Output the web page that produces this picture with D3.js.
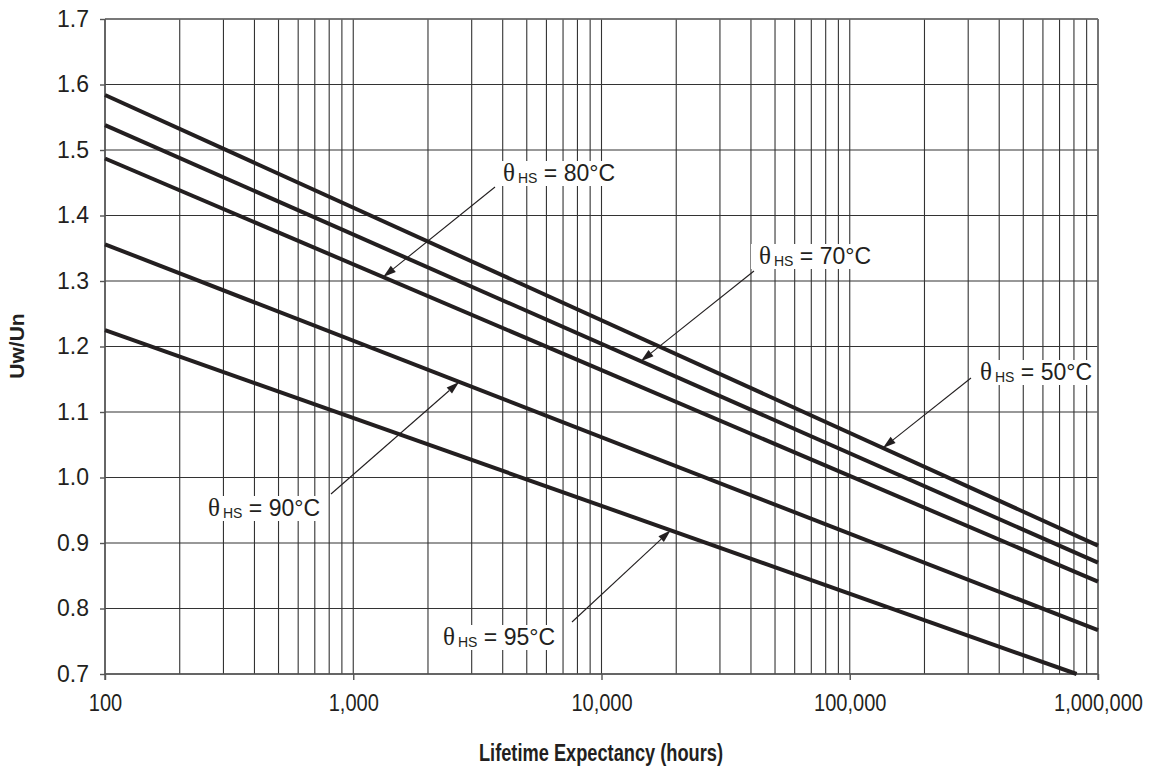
<!DOCTYPE html>
<html>
<head>
<meta charset="utf-8">
<script src="https://cdn.jsdelivr.net/npm/d3@7/dist/d3.min.js"></script>
<style>
  html, body { margin: 0; padding: 0; background: #fff; }
  svg { display: block; }
  text { font-family: "Liberation Sans", Arial, Helvetica, sans-serif; fill: #231f20; }
</style>
</head>
<body>
<svg id="chart" width="1151" height="769"></svg>
<script>
// ---------- data ----------
const temperatures = [50, 70, 80, 90, 95];
const hours50 = [100, 1000000];
const uw50 = [1.584, 0.896];
const hours70 = [100, 1000000];
const uw70 = [1.538, 0.870];
const hours80 = [100, 1000000];
const uw80 = [1.487, 0.841];
const hours90 = [100, 1000000];
const uw90 = [1.356, 0.767];
const hours95 = [100, 820000];
const uw95 = [1.225, 0.700];

const yTicks = [0.7, 0.8, 0.9, 1.0, 1.1, 1.2, 1.3, 1.4, 1.5, 1.6, 1.7];
const xTicks = [100, 1000, 10000, 100000, 1000000];
const xTickLabels = ["100", "1,000", "10,000", "100,000", "1,000,000"];
const yTitle = "Uw/Un";
const xTitle = "Lifetime Expectancy (hours)";

// arrow targets (hours on each curve)
const arrowHours = [136000, 14400, 1320, 2670, 19000];

// ---------- layout ----------
const plotL = 105, plotR = 1098, plotT = 19, plotB = 674;
const svg = d3.select("#chart");
const x = d3.scaleLog().domain([100, 1000000]).range([plotL, plotR]);
const y = d3.scaleLinear().domain([0.7, 1.7]).range([plotB, plotT]);

const series = [
  { t: temperatures[0], h: hours50, v: uw50 },
  { t: temperatures[1], h: hours70, v: uw70 },
  { t: temperatures[2], h: hours80, v: uw80 },
  { t: temperatures[3], h: hours90, v: uw90 },
  { t: temperatures[4], h: hours95, v: uw95 }
];

const gridColor = "#333";

// vertical grid (all minor log ticks)
const minor = [];
for (let d = 100; d < 1000000; d *= 10) {
  for (let k = 1; k < 10; k++) minor.push(d * k);
}
minor.push(1000000);
svg.append("g").selectAll("line").data(minor).join("line")
  .attr("x1", d => x(d)).attr("x2", d => x(d))
  .attr("y1", plotT).attr("y2", plotB)
  .attr("stroke", gridColor).attr("stroke-width", 1.1);

// horizontal grid
svg.append("g").selectAll("line").data(yTicks).join("line")
  .attr("x1", plotL).attr("x2", plotR)
  .attr("y1", d => y(d)).attr("y2", d => y(d))
  .attr("stroke", gridColor).attr("stroke-width", 1.1);

// frame
svg.append("line").attr("x1", plotL).attr("x2", plotR).attr("y1", plotT).attr("y2", plotT)
  .attr("stroke", "#6e6e6e").attr("stroke-width", 1.6);
svg.append("line").attr("x1", plotR).attr("x2", plotR).attr("y1", plotT).attr("y2", plotB + 6)
  .attr("stroke", "#6e6e6e").attr("stroke-width", 1.6);
svg.append("line").attr("x1", plotL).attr("x2", plotR).attr("y1", plotB).attr("y2", plotB)
  .attr("stroke", "#555").attr("stroke-width", 1.4);
svg.append("line").attr("x1", plotL).attr("x2", plotL).attr("y1", plotT).attr("y2", plotB + 6)
  .attr("stroke", "#555").attr("stroke-width", 1.4);

// axes (ticks + labels)
const yAxis = d3.axisLeft(y).tickValues(yTicks).tickFormat(d3.format(".1f"))
  .tickSize(5).tickPadding(11);
const gy = svg.append("g").attr("transform", `translate(${plotL},0)`).call(yAxis);
gy.select(".domain").remove();
gy.selectAll(".tick line").attr("stroke", "#555").attr("stroke-width", 1.4);
gy.selectAll(".tick text").attr("font-size", 23).attr("fill", "#231f20")
  .attr("font-family", "Liberation Sans, Arial, sans-serif");

const xAxis = d3.axisBottom(x).tickValues(xTicks)
  .tickFormat((d, i) => xTickLabels[i]).tickSize(6).tickPadding(15);
const gx = svg.append("g").attr("transform", `translate(0,${plotB})`).call(xAxis);
gx.select(".domain").remove();
gx.selectAll(".tick line").attr("stroke", "#555").attr("stroke-width", 1.4);
gx.selectAll(".tick text").attr("font-size", 23).attr("fill", "#231f20")
  .attr("transform", "scale(0.87,1)")
  .attr("font-family", "Liberation Sans, Arial, sans-serif");

// data lines
const line = d3.line().x(d => x(d[0])).y(d => y(d[1]));
svg.append("g").selectAll("path").data(series).join("path")
  .attr("d", s => line(s.h.map((h, i) => [h, s.v[i]])))
  .attr("fill", "none").attr("stroke", "#231f20").attr("stroke-width", 4)
  .attr("stroke-linecap", "butt");

// annotation layout (pixel positions of label text and arrow start)
const labelLayout = [
  { tx: 980, ty: 380, ax: 971, ay: 378 },
  { tx: 759, ty: 264, ax: 754, ay: 271 },
  { tx: 503, ty: 181, ax: 495, ay: 187 },
  { tx: 208, ty: 516, ax: 331, ay: 494 },
  { tx: 443, ty: 645, ax: 572, ay: 622 }
];

function valueAt(s, h) {
  const t = (Math.log10(h) - Math.log10(s.h[0])) / (Math.log10(s.h[1]) - Math.log10(s.h[0]));
  return s.v[0] + t * (s.v[1] - s.v[0]);
}

const ann = svg.append("g");
series.forEach((s, i) => {
  const L = labelLayout[i];
  const g = ann.append("g");
  const bg = g.append("rect").attr("fill", "#fff");
  const txt = g.append("text").attr("x", L.tx).attr("y", L.ty);
  txt.append("tspan").attr("font-family", "Liberation Serif, Times New Roman, serif")
    .attr("font-size", 25).text("θ");
  txt.append("tspan").attr("font-size", 14).attr("dx", 3).attr("dy", 2).text("HS");
  txt.append("tspan").attr("font-size", 23).attr("dy", -2).text(" = " + s.t + "°C");
  const bb = txt.node().getBBox();
  bg.attr("x", bb.x - 8).attr("y", bb.y + 2).attr("width", bb.width + 12).attr("height", bb.height - 2);

  // arrow
  const hx = x(arrowHours[i]), hy = y(valueAt(s, arrowHours[i]));
  const dx = hx - L.ax, dy = hy - L.ay;
  const len = Math.hypot(dx, dy);
  const ux = dx / len, uy = dy / len;
  const headLen = 13, headW = 4;
  const bx = hx - ux * headLen, by = hy - uy * headLen;
  ann.append("line").attr("x1", L.ax).attr("y1", L.ay).attr("x2", bx).attr("y2", by)
    .attr("stroke", "#231f20").attr("stroke-width", 1.1);
  ann.append("path")
    .attr("d", `M${hx},${hy}L${bx - uy * headW},${by + ux * headW}L${bx + uy * headW},${by - ux * headW}Z`)
    .attr("fill", "#231f20");
});

// axis titles
svg.append("text").attr("transform", `translate(24,346) rotate(-90)`)
  .attr("text-anchor", "middle").attr("font-weight", "bold").attr("font-size", 21)
  .text(yTitle);
svg.append("text").attr("transform", "translate(601,761) scale(0.76,1)")
  .attr("text-anchor", "middle").attr("font-weight", "bold").attr("font-size", 24)
  .text(xTitle);
</script>
</body>
</html>
